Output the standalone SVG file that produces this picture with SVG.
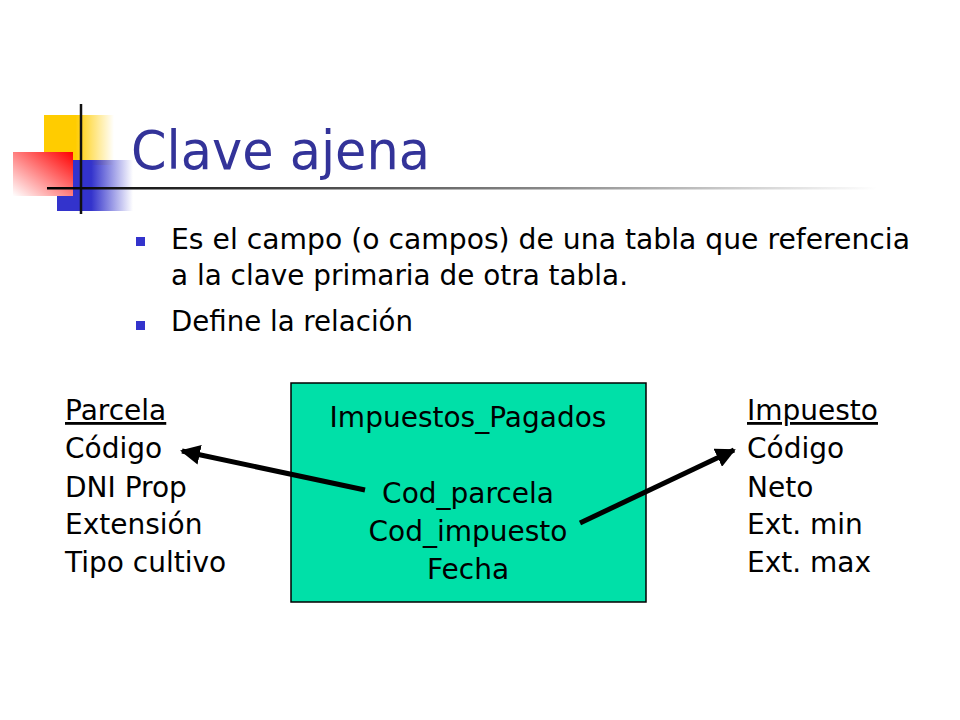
<svg xmlns="http://www.w3.org/2000/svg" width="960" height="720" viewBox="0 0 960 720">
<defs>
<linearGradient id="gy" x1="0" y1="0" x2="1" y2="0"><stop offset="0.45" stop-color="#FFCC00"/><stop offset="1" stop-color="#FFCC00" stop-opacity="0"/></linearGradient>
<linearGradient id="gb" x1="0" y1="0" x2="1" y2="0"><stop offset="0.45" stop-color="#3333CC"/><stop offset="1" stop-color="#3333CC" stop-opacity="0"/></linearGradient>
<linearGradient id="gr" x1="1" y1="0" x2="0" y2="1"><stop offset="0" stop-color="#FF0000"/><stop offset="1" stop-color="#FFFFFF"/></linearGradient>
<linearGradient id="gl" x1="0" y1="0" x2="1" y2="0"><stop offset="0" stop-color="#000"/><stop offset="0.6" stop-color="#888"/><stop offset="1" stop-color="#fff"/></linearGradient>
<marker id="ah" viewBox="0 0 10 10" refX="9" refY="5" markerWidth="4" markerHeight="4" orient="auto" markerUnits="strokeWidth"><path d="M0,0 L10,5 L0,10 z" fill="#000"/></marker>
</defs>
<style>
text{font-family:"DejaVu Sans","Liberation Sans",sans-serif;fill:#000}
.t{font-size:28px}
.b{fill:#3333CC}
.c{text-anchor:middle}
</style>
<rect width="960" height="720" fill="#fff"/>
<g id="deco">
<rect x="44" y="115" width="70" height="50" fill="url(#gy)"/>
<rect x="57" y="160" width="76" height="51" fill="url(#gb)"/>
<rect x="13" y="152" width="60" height="44" fill="url(#gr)"/>
<line x1="81" y1="104" x2="81" y2="214" stroke="#111" stroke-width="2.5"/>
<rect x="47" y="187" width="830" height="2.5" fill="url(#gl)"/>
</g>
<text x="131" y="169" font-size="53" fill="#333399" style="fill:#333399" textLength="299" lengthAdjust="spacingAndGlyphs">Clave ajena</text>
<g id="bullets">
<rect class="b" x="136" y="237" width="9" height="9"/>
<text class="t" x="171" y="249" textLength="739" lengthAdjust="spacingAndGlyphs">Es el campo (o campos) de una tabla que referencia</text>
<text class="t" x="171" y="285" textLength="457" lengthAdjust="spacingAndGlyphs">a la clave primaria de otra tabla.</text>
<rect class="b" x="136" y="321" width="9" height="9"/>
<text class="t" x="171" y="331" textLength="242" lengthAdjust="spacingAndGlyphs">Define la relación</text>
</g>
<g id="impuestos_pagados">
<rect x="291" y="383" width="355" height="219" fill="#00E0A8" stroke="#000" stroke-width="1.5"/>
<text class="t c" x="468" y="427">Impuestos_Pagados</text>
<text class="t c" x="468" y="503">Cod_parcela</text>
<text class="t c" x="468" y="541">Cod_impuesto</text>
<text class="t c" x="468" y="579">Fecha</text>
</g>
<g id="parcela">
<text class="t" x="65" y="420" text-decoration="underline">Parcela</text>
<text class="t" x="65" y="458">Código</text>
<text class="t" x="65" y="497">DNI Prop</text>
<text class="t" x="65" y="534">Extensión</text>
<text class="t" x="65" y="572">Tipo cultivo</text>
</g>
<g id="impuesto">
<text class="t" x="747" y="420" text-decoration="underline">Impuesto</text>
<text class="t" x="747" y="458">Código</text>
<text class="t" x="747" y="497">Neto</text>
<text class="t" x="747" y="534">Ext. min</text>
<text class="t" x="747" y="572">Ext. max</text>
</g>
<g id="connectors" stroke="#000" stroke-width="5" fill="none">
<line x1="365" y1="490" x2="182" y2="451" marker-end="url(#ah)"/>
<line x1="580" y1="523" x2="734" y2="450" marker-end="url(#ah)"/>
</g>
</svg>
